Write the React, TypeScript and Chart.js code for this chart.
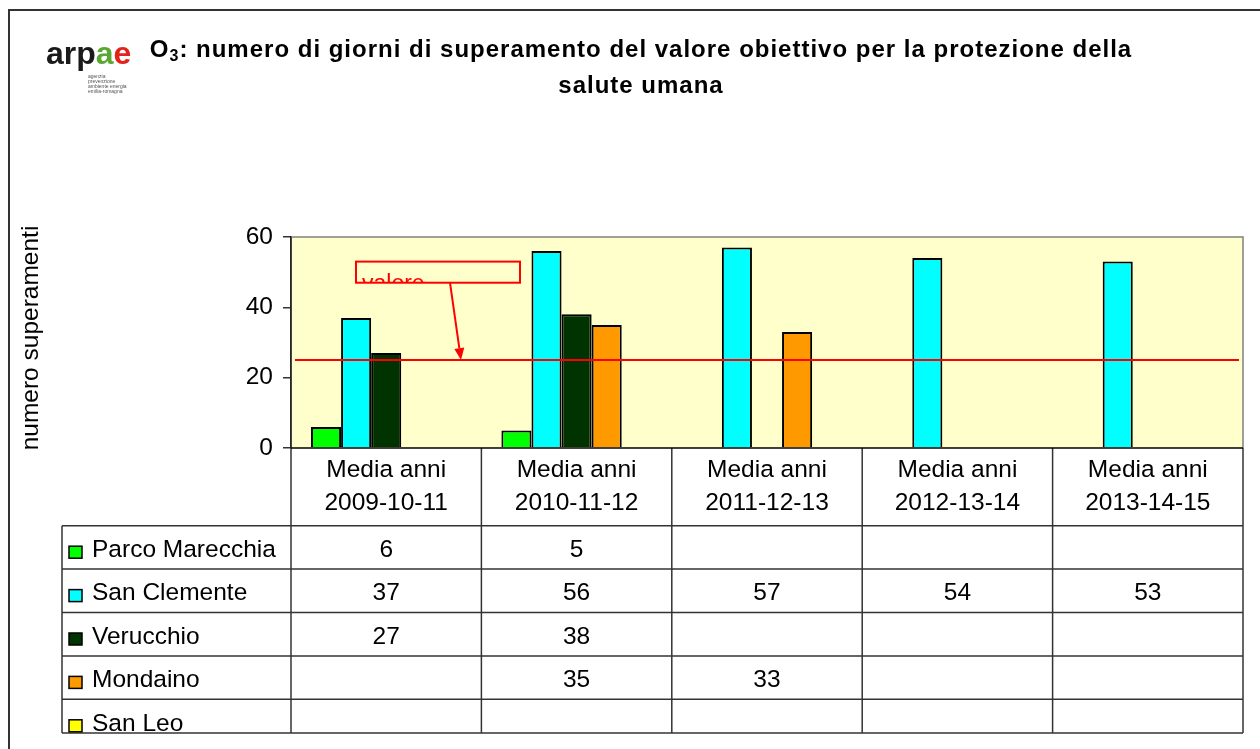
import React, { useEffect, useRef } from 'react';
import { Chart, registerables } from 'chart.js';

Chart.register(...registerables);

// ---------- data ----------
const categories: string[][] = [
  ['Media anni', '2009-10-11'],
  ['Media anni', '2010-11-12'],
  ['Media anni', '2011-12-13'],
  ['Media anni', '2012-13-14'],
  ['Media anni', '2013-14-15'],
];
const seriesNames = ['Parco Marecchia', 'San Clemente', 'Verucchio', 'Mondaino', 'San Leo'];
const seriesColors = ['#00FF00', '#00FFFF', '#003300', '#FF9900', '#FFFF00'];
const parcoMarecchia: (number | null)[] = [6, 5, null, null, null];
const sanClemente: (number | null)[] = [37, 56, 57, 54, 53];
const verucchio: (number | null)[] = [27, 38, null, null, null];
const mondaino: (number | null)[] = [null, 35, 33, null, null];
const sanLeo: (number | null)[] = [null, null, null, null, null];
const yTicks = [0, 20, 40, 60];
const targetValue = [25];
const titleLine1Main = ': numero di giorni di superamento del valore obiettivo per la protezione della';
const titleLine2 = 'salute umana';
const yAxisTitle = 'numero superamenti';
const annotationLines = ['valore', 'obiettivo'];
const logoSmallText = ['agenzia', 'prevenzione', 'ambiente energia', 'emilia-romagna'];

const FONT = '"Liberation Sans", Arial, sans-serif';

export default function App() {
  const ref = useRef<HTMLCanvasElement>(null);

  useEffect(() => {
    document.body.style.margin = '0';
    const canvas = ref.current!;
    const series = [parcoMarecchia, sanClemente, verucchio, mondaino, sanLeo];

    const plugin = {
      id: 'decor',
      beforeDraw(chart: any) {
        const ctx = chart.ctx as CanvasRenderingContext2D;
        const ca = chart.chartArea;
        ctx.save();
        ctx.fillStyle = '#fff';
        ctx.fillRect(0, 0, chart.width, chart.height);
        // outer frame
        ctx.strokeStyle = '#333';
        ctx.lineWidth = 2;
        ctx.strokeRect(9, 10, chart.width + 50, chart.height + 50);

        // logo
        ctx.textBaseline = 'alphabetic';
        ctx.textAlign = 'left';
        ctx.font = `bold 32px ${FONT}`;
        let lx = 46;
        const parts: [string, string][] = [['arp', '#1a1a1a'], ['a', '#5aa834'], ['e', '#e2231a']];
        for (const [t, c] of parts) {
          ctx.fillStyle = c;
          ctx.fillText(t, lx, 64);
          lx += ctx.measureText(t).width;
        }
        ctx.font = `5px ${FONT}`;
        ctx.fillStyle = '#555';
        logoSmallText.forEach((t, i) => ctx.fillText(t, 88, 78 + i * 5));

        // title
        (ctx as any).letterSpacing = '1px';
        ctx.fillStyle = '#000';
        ctx.font = `bold 24px ${FONT}`;
        const wO = ctx.measureText('O').width;
        ctx.font = `bold 16px ${FONT}`;
        const w3 = ctx.measureText('3').width;
        ctx.font = `bold 24px ${FONT}`;
        const wRest = ctx.measureText(titleLine1Main).width;
        const total = wO + w3 + wRest;
        let tx = 641 - total / 2;
        ctx.fillText('O', tx, 57);
        tx += wO;
        ctx.font = `bold 16px ${FONT}`;
        ctx.fillText('3', tx, 61);
        tx += w3;
        ctx.font = `bold 24px ${FONT}`;
        ctx.fillText(titleLine1Main, tx, 57);
        ctx.textAlign = 'center';
        ctx.fillText(titleLine2, 641, 93);
        (ctx as any).letterSpacing = '0px';

        // y axis title
        ctx.save();
        ctx.translate(31, 338);
        ctx.rotate(-Math.PI / 2);
        ctx.font = `24.5px ${FONT}`;
        ctx.textAlign = 'center';
        ctx.textBaseline = 'middle';
        ctx.fillText(yAxisTitle, 0, 0);
        ctx.restore();

        // plot background
        ctx.fillStyle = '#FFFFCC';
        ctx.fillRect(ca.left, ca.top, ca.right - ca.left, ca.bottom - ca.top);
        ctx.restore();
      },
      afterDatasetsDraw(chart: any) {
        const ctx = chart.ctx as CanvasRenderingContext2D;
        const ca = chart.chartArea;
        const xs = chart.scales.x;
        const ys = chart.scales.y;
        ctx.save();

        // target line
        const yT = ys.getPixelForValue(targetValue[0]);
        ctx.strokeStyle = '#FF0000';
        ctx.lineWidth = 2;
        ctx.beginPath();
        ctx.moveTo(ca.left + 4, yT);
        ctx.lineTo(ca.right - 4, yT);
        ctx.stroke();

        // annotation box (text clipped by the box, as in the original)
        const bx1 = ca.left + 65, bx2 = ca.left + 229;
        const by1 = ys.getPixelForValue(53), by2 = ys.getPixelForValue(47);
        ctx.save();
        ctx.beginPath();
        ctx.rect(bx1, by1, bx2 - bx1, by2 - by1);
        ctx.clip();
        ctx.fillStyle = '#FF0000';
        ctx.font = `23px ${FONT}`;
        ctx.textAlign = 'left';
        ctx.textBaseline = 'alphabetic';
        annotationLines.forEach((t, i) => ctx.fillText(t, bx1 + 6, by2 + 8.5 + i * 27));
        ctx.restore();
        ctx.strokeRect(bx1, by1, bx2 - bx1, by2 - by1);

        // arrow
        const ax1 = ca.left + 159, ay1 = by2;
        const ax2 = ca.left + 170, ay2 = yT;
        const ang = Math.atan2(ay2 - ay1, ax2 - ax1);
        const hl = 12, hw = 5;
        const bxh = ax2 - hl * Math.cos(ang), byh = ay2 - hl * Math.sin(ang);
        ctx.beginPath();
        ctx.moveTo(ax1, ay1);
        ctx.lineTo(bxh, byh);
        ctx.stroke();
        ctx.fillStyle = '#FF0000';
        ctx.beginPath();
        ctx.moveTo(ax2, ay2);
        ctx.lineTo(bxh + hw * Math.sin(ang), byh - hw * Math.cos(ang));
        ctx.lineTo(bxh - hw * Math.sin(ang), byh + hw * Math.cos(ang));
        ctx.closePath();
        ctx.fill();

        // plot border
        ctx.strokeStyle = '#808080';
        ctx.lineWidth = 1.5;
        ctx.beginPath();
        ctx.moveTo(ca.left, ca.top);
        ctx.lineTo(ca.right, ca.top);
        ctx.lineTo(ca.right, ca.bottom);
        ctx.stroke();

        // data table
        const n = categories.length;
        const cw = (ca.right - ca.left) / n;
        const headerH = 77.7;
        const rowH = 43.4;
        const rowsTop = ca.bottom + headerH;
        const tableBottom = 733;
        const tableLeft = 62;
        ctx.strokeStyle = '#333';
        ctx.lineWidth = 1.5;
        for (let k = 0; k <= n; k++) {
          const x = ca.left + k * cw;
          ctx.beginPath();
          ctx.moveTo(x, k === 0 ? ca.top : ca.bottom);
          ctx.lineTo(x, tableBottom);
          ctx.stroke();
        }
        ctx.beginPath();
        ctx.moveTo(tableLeft, rowsTop);
        ctx.lineTo(tableLeft, tableBottom);
        ctx.stroke();
        for (let r = 0; r < seriesNames.length; r++) {
          const y = rowsTop + r * rowH;
          ctx.beginPath();
          ctx.moveTo(tableLeft, y);
          ctx.lineTo(ca.right, y);
          ctx.stroke();
        }
        ctx.beginPath();
        ctx.moveTo(tableLeft, tableBottom);
        ctx.lineTo(ca.right, tableBottom);
        ctx.stroke();
        ctx.strokeStyle = '#000';
        ctx.beginPath();
        ctx.moveTo(ca.left, ca.bottom);
        ctx.lineTo(ca.right, ca.bottom);
        ctx.stroke();

        // header text
        ctx.fillStyle = '#000';
        ctx.font = `24.5px ${FONT}`;
        ctx.textAlign = 'center';
        ctx.textBaseline = 'alphabetic';
        categories.forEach((lines, i) => {
          const cx = xs.getPixelForValue(i);
          ctx.fillText(lines[0], cx, ca.bottom + 29);
          ctx.fillText(lines[1], cx, ca.bottom + 62);
        });
        // rows
        ctx.save();
        ctx.beginPath();
        ctx.rect(0, 0, chart.width, tableBottom);
        ctx.clip();
        seriesNames.forEach((name, r) => {
          const top = rowsTop + r * rowH;
          const base = top + 31.3;
          ctx.fillStyle = seriesColors[r];
          ctx.fillRect(69, top + 20.5, 13, 12);
          ctx.strokeStyle = '#000';
          ctx.lineWidth = 1.5;
          ctx.strokeRect(69, top + 20.5, 13, 12);
          ctx.fillStyle = '#000';
          ctx.textAlign = 'left';
          ctx.fillText(name, 92, base);
          ctx.textAlign = 'center';
          series[r].forEach((v, i) => {
            if (v === null || v === undefined) return;
            ctx.fillText(String(v), xs.getPixelForValue(i), base);
          });
        });
        ctx.restore();
        ctx.restore();
      },
    };

    const chart = new Chart(canvas, {
      type: 'bar',
      data: {
        labels: categories.map((c) => c.join(' ')),
        datasets: seriesNames.map((name, i) => ({
          label: name,
          data: series[i],
          backgroundColor: seriesColors[i],
          borderColor: '#000',
          borderWidth: 2,
          categoryPercentage: 0.79,
          barPercentage: 1,
        })),
      },
      options: {
        responsive: false,
        animation: false,
        devicePixelRatio: 1,
        layout: { padding: { left: 0, top: 237, right: 17, bottom: 301 } },
        plugins: {
          legend: { display: false },
          title: { display: false },
          tooltip: { enabled: false },
        },
        scales: {
          x: { display: false },
          y: {
            min: 0,
            max: 60,
            afterBuildTicks: (s: any) => {
              s.ticks = yTicks.map((v) => ({ value: v }));
            },
            afterFit: (s: any) => {
              s.width = 291;
            },
            ticks: { color: '#000', font: { family: FONT, size: 24.5 }, padding: 10 },
            grid: { drawOnChartArea: false, drawTicks: true, tickLength: 8, color: '#333', lineWidth: 1.5 },
            border: { display: true, color: '#000', width: 1.5 },
          },
        },
      },
      plugins: [plugin],
    } as any);

    return () => chart.destroy();
  }, []);

  return <canvas ref={ref} width={1260} height={749} style={{ display: 'block' }} />;
}
